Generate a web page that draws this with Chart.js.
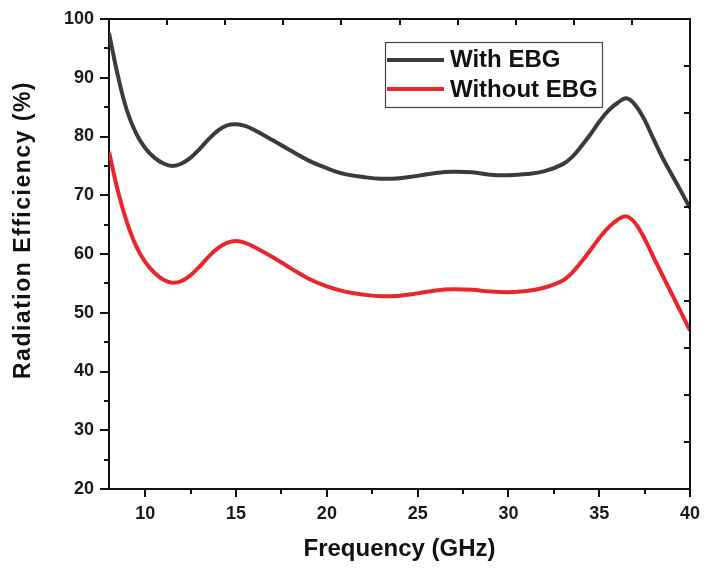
<!DOCTYPE html>
<html lang="en">
<head>
    <meta charset="UTF-8">
    <title>Radiation Efficiency</title>
    <script src="https://cdn.jsdelivr.net/npm/chart.js"></script>
    <style>
        html, body { margin: 0; padding: 0; background: #ffffff; }
        #chartContainer { width: 717px; height: 568px; }
    </style>
</head>
<body>
    <div id="chartContainer">
        <canvas id="effChart"></canvas>
    </div>

    <script>
        // Frequency (GHz)
        const freq = [8, 8.5, 9, 9.5, 10, 10.5, 11, 11.5, 12, 12.5, 13, 13.5, 14, 14.5, 15, 15.5, 16,
            17, 18, 19, 20, 21, 22, 23, 24, 25, 26, 27, 28, 29, 30, 31, 32, 33,
            33.5, 34, 34.5, 35, 35.5, 36, 36.5, 37, 37.5, 38, 38.5, 39, 39.5, 40];

        // Radiation efficiency (%)
        const withEbg = [97.6, 90.2, 84.3, 80.5, 78.0, 76.4, 75.4, 75.0, 75.4, 76.4, 77.9, 79.6, 81.0, 81.9, 82.1, 81.8, 81.1,
            79.4, 77.6, 75.9, 74.6, 73.6, 73.1, 72.8, 72.9, 73.3, 73.8, 74.0, 73.9, 73.5, 73.4, 73.6, 74.1, 75.3,
            76.5, 78.3, 80.3, 82.5, 84.4, 85.7, 86.5, 85.3, 82.8, 79.5, 76.3, 73.5, 70.7, 67.8];

        const withoutEbg = [77.4, 70.6, 65.3, 61.3, 58.6, 56.8, 55.6, 55.1, 55.4, 56.4, 57.9, 59.6, 61.0, 61.9, 62.2, 61.9, 61.2,
            59.5, 57.6, 55.8, 54.5, 53.6, 53.1, 52.8, 52.9, 53.3, 53.8, 54.0, 53.9, 53.6, 53.5, 53.7, 54.3, 55.5,
            56.8, 58.6, 60.6, 62.7, 64.5, 65.8, 66.4, 65.2, 62.6, 59.4, 56.3, 53.2, 50.1, 47.0];

        const seriesNames = ['With EBG', 'Without EBG'];
        const seriesColors = ['#3b3b3b', '#e8262b'];

        const xTickValues = [10, 15, 20, 25, 30, 35, 40];
        const yTickValues = [20, 30, 40, 50, 60, 70, 80, 90, 100];
        const xMinorValues = [12.5, 17.5, 22.5, 27.5, 32.5, 37.5];
        const yMinorValues = [25, 35, 45, 55, 65, 75, 85, 95];

        const FONT = '"Liberation Sans", Arial, sans-serif';

        // frame on top/right, minor ticks, inward ticks on the mirrored sides
        const frameDecor = {
            id: 'frameDecor',
            afterDraw(chart) {
                const { ctx, chartArea: a, scales: { x, y } } = chart;
                ctx.save();
                ctx.strokeStyle = '#111111';
                ctx.lineWidth = 2;
                ctx.beginPath();
                ctx.moveTo(a.left, a.top);
                ctx.lineTo(a.right, a.top);
                ctx.lineTo(a.right, a.bottom);
                yMinorValues.forEach(v => {
                    const py = Math.round(y.getPixelForValue(v));
                    ctx.moveTo(a.left - 5, py);
                    ctx.lineTo(a.left, py);
                });
                xMinorValues.forEach(v => {
                    const px = Math.round(x.getPixelForValue(v));
                    ctx.moveTo(px, a.bottom);
                    ctx.lineTo(px, a.bottom + 5);
                });
                for (let i = 1; i < 10; i++) {
                    const px = Math.round(a.left + (a.right - a.left) * i / 10);
                    ctx.moveTo(px, a.top);
                    ctx.lineTo(px, a.top + 6);
                    const py = Math.round(a.top + (a.bottom - a.top) * i / 10);
                    ctx.moveTo(a.right, py);
                    ctx.lineTo(a.right - 6, py);
                }
                ctx.stroke();
                ctx.restore();
            }
        };

        // boxed legend inside the plot + rotated y title
        const legendBox = {
            id: 'legendBox',
            afterDraw(chart) {
                const { ctx } = chart;
                ctx.save();
                ctx.strokeStyle = '#444444';
                ctx.lineWidth = 1.2;
                ctx.strokeRect(385.5, 42.5, 217, 65);
                ctx.font = 'bold 24px ' + FONT;
                ctx.textBaseline = 'middle';
                ctx.textAlign = 'left';
                chart.data.datasets.forEach((ds, i) => {
                    const ly = 60 + i * 29;
                    ctx.strokeStyle = ds.borderColor;
                    ctx.lineWidth = 4;
                    ctx.beginPath();
                    ctx.moveTo(387, ly);
                    ctx.lineTo(444, ly);
                    ctx.stroke();
                    ctx.fillStyle = '#111111';
                    ctx.fillText(ds.label, 450, ly + 0.5 + i);
                });

                ctx.translate(24, 230);
                ctx.rotate(-Math.PI / 2);
                ctx.font = 'bold 23px ' + FONT;
                if ('letterSpacing' in ctx) ctx.letterSpacing = '1.5px';
                ctx.textAlign = 'center';
                ctx.fillStyle = '#111111';
                ctx.fillText('Radiation Efficiency (%)', 0, 0);
                ctx.restore();
            }
        };

        const toPoints = vals => freq.map((f, i) => ({ x: f, y: vals[i] }));

        const ctx = document.getElementById('effChart').getContext('2d');
        new Chart(ctx, {
            type: 'line',
            data: {
                datasets: [
                    {
                        label: seriesNames[0],
                        data: toPoints(withEbg),
                        borderColor: seriesColors[0],
                        borderWidth: 4,
                        pointRadius: 0,
                        tension: 0.4
                    },
                    {
                        label: seriesNames[1],
                        data: toPoints(withoutEbg),
                        borderColor: seriesColors[1],
                        borderWidth: 4,
                        pointRadius: 0,
                        tension: 0.4
                    }
                ]
            },
            options: {
                responsive: true,
                maintainAspectRatio: false,
                animation: false,
                layout: { padding: { top: 19, right: 27, left: 0, bottom: 0 } },
                plugins: {
                    legend: { display: false },
                    tooltip: { enabled: false }
                },
                scales: {
                    x: {
                        type: 'linear',
                        min: 8,
                        max: 40,
                        afterBuildTicks: s => { s.ticks = xTickValues.map(v => ({ value: v })); },
                        afterFit: s => { s.height = 79; },
                        border: { display: true, color: '#111111', width: 2 },
                        grid: { drawOnChartArea: false, color: '#111111', lineWidth: 2, tickLength: 8 },
                        ticks: {
                            color: '#1a1a1a',
                            padding: 6,
                            maxRotation: 0,
                            font: { family: FONT, size: 18, weight: 'bold' }
                        },
                        title: {
                            display: true,
                            text: 'Frequency (GHz)',
                            color: '#111111',
                            padding: { top: 0, bottom: 4 },
                            font: { family: FONT, size: 24, weight: 'bold' }
                        }
                    },
                    y: {
                        type: 'linear',
                        min: 20,
                        max: 100,
                        afterBuildTicks: s => { s.ticks = yTickValues.map(v => ({ value: v })); },
                        afterFit: s => { s.width = 109; },
                        border: { display: true, color: '#111111', width: 2 },
                        grid: { drawOnChartArea: false, color: '#111111', lineWidth: 2, tickLength: 9 },
                        ticks: {
                            color: '#1a1a1a',
                            padding: 6,
                            font: { family: FONT, size: 18, weight: 'bold' }
                        }
                    }
                }
            },
            plugins: [frameDecor, legendBox]
        });
    </script>
</body>
</html>
